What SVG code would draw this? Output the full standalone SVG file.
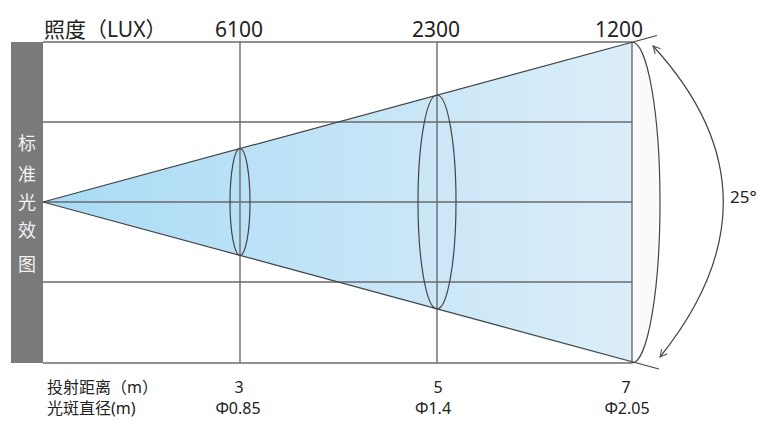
<svg xmlns="http://www.w3.org/2000/svg" width="771" height="434" viewBox="0 0 771 434">
<defs>
<linearGradient id="cone" x1="43" y1="0" x2="632" y2="0" gradientUnits="userSpaceOnUse">
<stop offset="0" stop-color="#a8dbf5"/>
<stop offset="1" stop-color="#dcedf9"/>
</linearGradient>
<marker id="ah" viewBox="0 0 10 10" refX="9" refY="5" markerWidth="9" markerHeight="9" orient="auto-start-reverse" markerUnits="userSpaceOnUse">
<path d="M1,1 L9,5 L1,9" fill="none" stroke="#555" stroke-width="1.2"/>
</marker>
</defs>
<style>
.t{font-family:"Noto Sans","Noto Sans CJK SC",sans-serif;fill:#222}
.h{font-size:21px}
.b{font-size:16px}
.side{font-family:"Noto Sans CJK SC",sans-serif;font-size:18px;fill:#f2f2f2;text-anchor:middle}
.g{stroke:#6a6a6a;stroke-width:1.4;fill:none}
.e{stroke:#444;stroke-width:1.2;fill:none}
</style>
<rect width="771" height="434" fill="#fff"/>
<g id="side-bar">
<rect x="11" y="42" width="32" height="321" fill="#7a7a7a"/>
<text class="side" x="27" y="150">标</text>
<text class="side" x="27" y="181">准</text>
<text class="side" x="27" y="209">光</text>
<text class="side" x="27" y="237">效</text>
<text class="side" x="27" y="271">图</text>
</g>
<g id="beam">
<polygon points="43,202 632,42 632,363" fill="url(#cone)"/>
<path d="M632,42 A28,160.5 0 0 1 632,363" fill="#fafafa"/>
</g>
<g id="connectors">
<line class="g" x1="43" y1="42" x2="632" y2="42"/>
<line class="g" x1="43" y1="363" x2="632" y2="363"/>
<line class="g" x1="43" y1="122" x2="632" y2="122"/>
<line class="g" x1="43" y1="202" x2="632" y2="202"/>
<line class="g" x1="43" y1="282" x2="632" y2="282"/>
<line class="g" x1="240" y1="42" x2="240" y2="363"/>
<line class="g" x1="437" y1="42" x2="437" y2="363"/>
<line class="g" x1="632" y1="42" x2="632" y2="363"/>
<line class="e" x1="43" y1="202" x2="657" y2="35.5"/>
<line class="e" x1="43" y1="202" x2="659" y2="369"/>
<ellipse class="e" cx="240" cy="202" rx="10" ry="53.5"/>
<ellipse class="e" cx="437" cy="202" rx="19" ry="107"/>
<path class="e" d="M632,42 A28,160.5 0 0 1 632,363"/>
<path class="e" d="M653,46 Q790,195 660,357" marker-start="url(#ah)" marker-end="url(#ah)"/>
</g>
<g id="labels">
<text class="t h" x="44" y="37">照度（LUX）</text>
<text class="t h" x="239" y="37" text-anchor="middle">6100</text>
<text class="t h" x="436" y="37" text-anchor="middle">2300</text>
<text class="t h" x="619" y="37" text-anchor="middle">1200</text>
<text class="t" x="730" y="203" font-size="17">25°</text>
<text class="t b" x="47" y="393">投射距离（m）</text>
<text class="t b" x="47" y="414">光斑直径(m)</text>
<text class="t b" x="239" y="393" text-anchor="middle">3</text>
<text class="t b" x="238" y="414" text-anchor="middle">Φ0.85</text>
<text class="t b" x="438" y="393" text-anchor="middle">5</text>
<text class="t b" x="433" y="414" text-anchor="middle">Φ1.4</text>
<text class="t b" x="626" y="393" text-anchor="middle">7</text>
<text class="t b" x="627" y="414" text-anchor="middle">Φ2.05</text>
</g>
</svg>
